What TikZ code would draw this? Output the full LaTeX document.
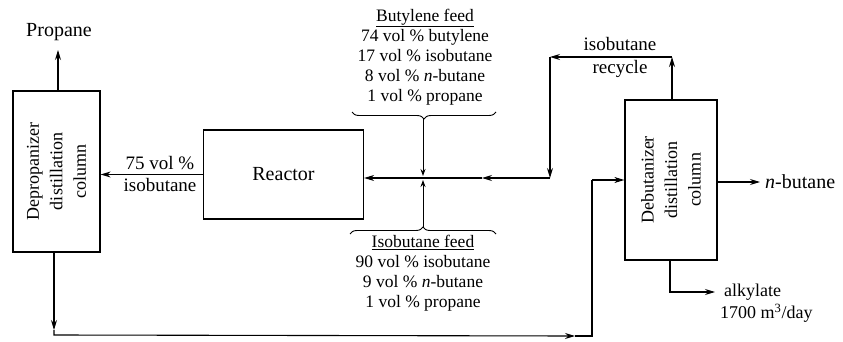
\documentclass[tikz,border=0pt]{standalone}
\usepackage{fontspec}
\setmainfont{Liberation Serif}
\usetikzlibrary{arrows.meta,decorations.pathreplacing}
\begin{document}
\begin{tikzpicture}[x=1pt,y=-1pt,
  box/.style={draw,line width=1.3pt,inner sep=0pt},
  flow/.style={line width=1.1pt},
  arr/.style={flow,-{Stealth[length=10pt,width=6pt]}},
  sarr/.style={line width=0.9pt,-{Stealth[length=7pt,width=5pt]}},
  lbl/.style={font=\fontsize{19}{20}\selectfont,inner sep=0pt},
  lst/.style={font=\fontsize{17.5}{20}\selectfont,inner sep=0pt,align=center},
  col/.style={font=\fontsize{18}{23.5}\selectfont,rotate=90,align=center,inner sep=0pt},
  brc/.style={decorate,decoration={brace,amplitude=7pt},line width=0.9pt}]
\useasboundingbox (0,0) rectangle (843,342);
% boxes
\node[box,minimum width=87pt,minimum height=161pt] (dep) at (56.5,171.5) {};
\node[col] (deplbl) at (dep.center) {Depropanizer\\distillation\\column};
\node[box,minimum width=160pt,minimum height=89pt] (reac) at (283.5,174.5) {};
\node[lbl,font=\fontsize{20}{20}\selectfont] (reaclbl) at (reac.center) {Reactor};
\node[box,minimum width=92pt,minimum height=160pt] (deb) at (671,180) {};
\node[col] (deblbl) at (deb.center) {Debutanizer\\distillation\\column};
% propane
\coordinate (ptop) at (58,50);
\draw[arr] (dep.north -| ptop) -- (ptop);
\node[lbl,font=\fontsize{20}{20}\selectfont] (prop) at (59,32) {Propane};
% reactor to depropanizer
\draw[arr] (reac.west) -- (dep.east |- reac.west);
\node[lbl,anchor=south] (v75) at (160,170) {75 vol \%};
\node[lbl,anchor=north] (iso1) at (160,178) {isobutane};
% feeds
\node[lst] (bfeed) at (425,57) {\underline{Butylene feed}\\74 vol \% butylene\\17 vol \% isobutane\\8 vol \% \textit{n}-butane\\1 vol \% propane};
\draw[brc] (496,112) -- (352,112);
\coordinate (ub) at (424,119);
\node[lst] (ifeed) at (423,273) {\underline{Isobutane feed}\\90 vol \% isobutane\\9 vol \% \textit{n}-butane\\1 vol \% propane};
\draw[brc] (350,234) -- (496,234);
\coordinate (lb) at (423,227);
\coordinate (j) at (423,178);
\draw[sarr,shorten >=2pt] (ub -| j) -- (j);
\draw[sarr,shorten >=2pt] (lb) -- (j);
% recycle
\coordinate (rc0) at (672,57);
\coordinate (rc1) at (550,57);
\coordinate (rc2) at (550,178);
\coordinate (mid) at (482,178);
\draw[arr] (deb.north -| rc0) -- (rc0);
\draw[arr] (rc0) -- (rc1);
\draw[arr] (rc1) -- (rc2);
\draw[arr] (rc2) -- (mid);
\draw[arr] (mid) -- (reac.east |- rc2);
\node[lbl,anchor=south] (isorec) at (620,51) {isobutane};
\node[lbl,anchor=north] (rec) at (620,60) {recycle};
% bottoms of depropanizer to debutanizer
\coordinate (b0) at (54,330);
\coordinate (b1) at (54,335);
\coordinate (bm) at (575,336);
\coordinate (b2) at (592,336);
\coordinate (b3) at (592,180);
\draw[arr] (dep.south -| b0) -- (b0);
\draw[arr] (b0) -- (b1) -- (bm);
\draw[flow] (bm) -- (b2) -- (b3);
\draw[arr] (b3) -- (deb.west |- b3);
% n-butane
\coordinate (nb) at (760,182);
\draw[arr] (deb.east |- nb) -- (nb);
\node[lbl,anchor=west,font=\fontsize{20}{20}\selectfont] (nbl) at (765,182) {\textit{n}-butane};
% alkylate
\coordinate (ak1) at (670,292);
\coordinate (ak2) at (715,292);
\draw[arr] (deb.south -| ak1) -- (ak1) -- (ak2);
\node[lbl,anchor=west,align=left,font=\fontsize{18}{22}\selectfont] (alk) at (720,303) {\hspace*{4pt}alkylate\\1700 m\textsuperscript{3}/day};
\end{tikzpicture}
\end{document}
